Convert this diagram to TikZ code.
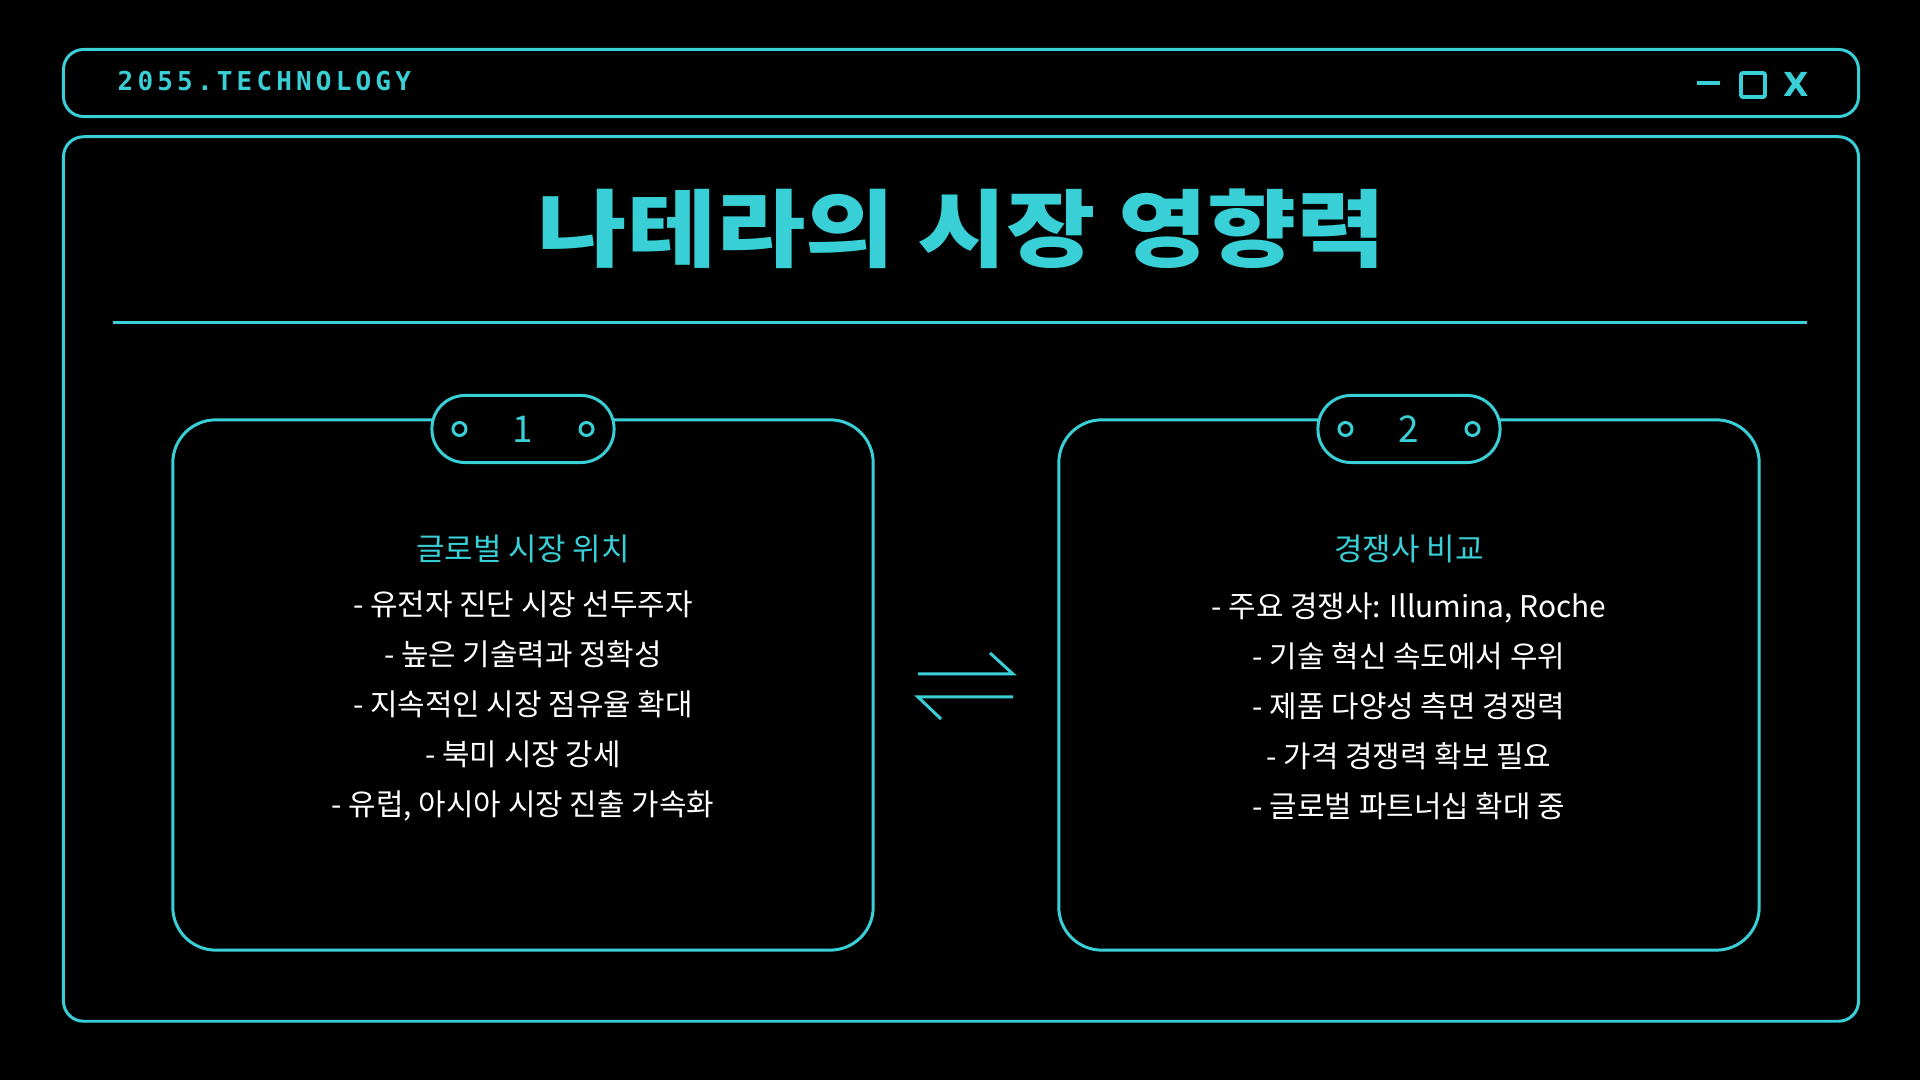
\documentclass[tikz,border=0pt]{standalone}
\usepackage{fontspec}
\usetikzlibrary{positioning}
\newfontfamily\krfont{Noto Sans CJK KR}
\newfontfamily\techfont{DejaVu Sans Mono}[LetterSpace=16]
\newfontfamily\symfont{DejaVu Sans}
\definecolor{neon}{RGB}{56,208,214}
\tikzset{
  panel/.style={draw=neon, line width=0.85pt, rounded corners=0.2cm, minimum width=17.94cm},
  card/.style={draw=neon, line width=0.85pt, rounded corners=0.43cm, minimum width=7cm, minimum height=5.3cm},
  tab/.style={draw=neon, fill=black, line width=0.85pt, rounded corners=0.33cm, minimum width=1.82cm, minimum height=0.67cm, inner sep=0pt, text=neon, font=\krfont\fontsize{10.5}{12}\selectfont},
  dot/.style={circle, draw=neon, line width=0.85pt, minimum size=0.13cm, inner sep=0pt},
  cardhead/.style={text=neon, inner sep=0pt, font=\krfont\fontsize{8.8}{10}\selectfont},
  cardtext/.style={text=white, align=center, inner sep=0pt, font=\krfont\fontsize{8.5}{14.2}\selectfont},
}
\begin{document}
\begin{tikzpicture}[x=0.01cm, y=-0.01cm]
    \fill[black] (0,0) rectangle (1920,1080);
    \useasboundingbox (0,0) rectangle (1920,1080);
    % window frame
    \node[panel, minimum height=0.67cm] (bar) at (961,83) {};
    \node[panel, minimum height=8.84cm] (main) at (961,579) {};
    \node[anchor=west, inner sep=0pt, text=neon, font=\techfont\bfseries\fontsize{7.4}{9}\selectfont] (brand) at (117,81) {2055.TECHNOLOGY};
    \draw[neon, line width=1.4pt] (1697,83) -- (1720,83);
    \draw[neon, line width=1.1pt, rounded corners=0.02cm] (1741,73) rectangle (1765,97);
    \node[text=neon, inner sep=0pt, font=\symfont\bfseries\fontsize{9.4}{10}\selectfont] (close) at (1796,84) {X};
    % title
    \node[text=neon, inner sep=0pt, xscale=1.15, font=\krfont\bfseries\fontsize{24}{30}\selectfont] (title) at (962,229) {나테라의 시장 영향력};
    \draw[neon, line width=0.85pt] (113,323) -- (1807,323);
    % cards
    \node[card] (card1) at (523,685) {};
    \node[card] (card2) at (1409,685) {};
    \node[tab] (tab1) at (card1.north |- 0,429) {1};
    \node[tab] (tab2) at (card2.north |- 0,429) {2};
    \node[dot, right=0.21cm of tab1.west] (tab1l) {};
    \node[dot, left=0.21cm of tab1.east] (tab1r) {};
    \node[dot, right=0.21cm of tab2.west] (tab2l) {};
    \node[dot, left=0.21cm of tab2.east] (tab2r) {};
    \node[cardhead] (head1) at (523,549) {글로벌 시장 위치};
    \node[cardhead] (head2) at (1409,549) {경쟁사 비교};
    \node[cardtext] (list1) at (523,706) {- 유전자 진단 시장 선두주자\\- 높은 기술력과 정확성\\- 지속적인 시장 점유율 확대\\- 북미 시장 강세\\- 유럽, 아시아 시장 진출 가속화};
    \node[cardtext] (list2) at (1409,706) {- 주요 경쟁사: Illumina, Roche\\- 기술 혁신 속도에서 우위\\- 제품 다양성 측면 경쟁력\\- 가격 경쟁력 확보 필요\\- 글로벌 파트너십 확대 중};
    % exchange sign
    \draw[neon, line width=0.85pt] (918,674) -- (1013,674) -- (990,653);
    \draw[neon, line width=0.85pt] (1013,697) -- (918,697) -- (941,719);
\end{tikzpicture}
\end{document}
